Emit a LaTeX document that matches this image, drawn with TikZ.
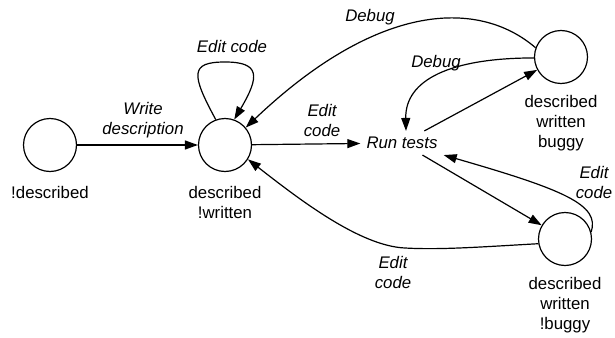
\documentclass[tikz,border=0pt]{standalone}
\usepackage{fontspec}
\setmainfont{Liberation Sans}
\usetikzlibrary{arrows.meta}
\begin{document}
\begin{tikzpicture}[x=1pt,y=-1pt,
  state/.style={draw, circle, line width=1.2pt, minimum size=53pt, inner sep=0pt},
  lbl/.style={font=\fontsize{16.8}{20}\selectfont, align=center, inner sep=0pt},
  elbl/.style={font=\fontsize{16.8}{20}\selectfont\itshape, align=center, inner sep=0pt},
  edge/.style={line width=1.2pt, -{Triangle[length=13pt,width=9pt]}},
  plain/.style={line width=1.2pt}]
\useasboundingbox (0,0) rectangle (615,337);
\node[state] (A) at (50,145) {};
\node[state] (B) at (225,145) {};
\node[state] (C) at (561,57) {};
\node[state] (D) at (565,239) {};
\node[elbl, inner sep=6pt] (run) at (402,143) {Run tests};
\node[lbl] (lA) at (50,192) {!described};
\node[lbl] (lB) at (225,202) {described\\!written};
\node[lbl] (lC) at (561,123) {described\\written\\buggy};
\node[lbl] (lD) at (565,305) {described\\written\\!buggy};
% edges
\draw[edge] (A) -- (B);
\node[elbl] (wd) at (143,120) {Write\\description};
\draw[edge] (B.110) .. controls (191,74) and (190,62) .. (225,62) .. controls (260,62) and (260,76) .. (B.70);
\node[elbl] (ec1) at (232,46) {Edit code};
\draw[edge] (B) -- (run);
\node[elbl] (ec2) at (322,120) {Edit\\code};
\draw[edge] (C.160) .. controls (480,0) and (380,0) .. (B.40);
\node[elbl] (db1) at (370,17) {Debug};
\draw[edge] (C.182) .. controls (450,58) and (405,80) .. ([xshift=4pt]run.north);
\node[elbl] (db2) at (436,63) {Debug};
\draw[edge] (run) -- (C);
\draw[edge] (run) -- (D);
\draw[edge] (D.15) .. controls (600,205) and (565,190) .. (run.south east);
\node[elbl] (ec3) at (594,182) {Edit\\code};
\draw[edge] (D.190) .. controls (480,247) and (440,250) .. (405,248) .. controls (360,246) and (300,200) .. (B.-32);
\node[elbl] (ec4) at (393,272) {Edit\\code};
\end{tikzpicture}
\end{document}
